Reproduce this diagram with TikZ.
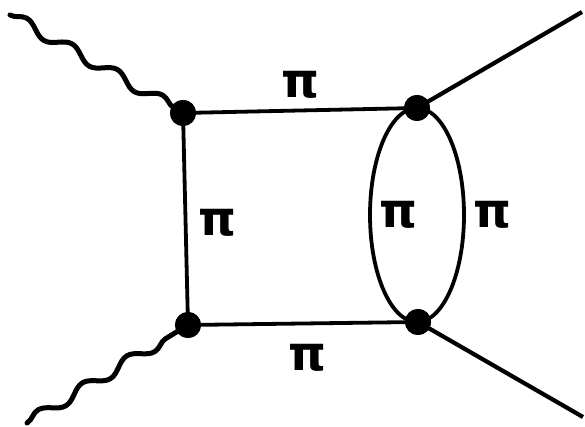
\documentclass[tikz,border=0pt]{standalone}
\usepackage{fontspec}
\newfontfamily\pifont{DejaVu Sans}
\usetikzlibrary{decorations.pathmorphing}
\begin{document}
\begin{tikzpicture}[x=1pt,y=1pt,
  vtx/.style={circle,fill=black,inner sep=0pt,minimum size=26pt},
  prop/.style={line width=3.8pt},
  ext/.style={line width=4.2pt},
  wave/.style={line width=5pt,line cap=round,decorate,decoration={snake,segment length=52pt,amplitude=5.5pt}},
  lbl/.style={font=\pifont\bfseries\fontsize{48}{48}\selectfont,inner sep=0pt}]
\useasboundingbox (0,0) rectangle (585,427);
\node[vtx] (A) at (183,314) {};
\node[vtx] (B) at (188,102) {};
\node[vtx] (C) at (417,319) {};
\node[vtx] (D) at (418,105) {};
\coordinate (w1) at (10,412);
\coordinate (w2) at (27,4);
\coordinate (o1) at (582,415);
\coordinate (o2) at (583,10);
\draw[wave] (w1) -- (A.center);
\draw[wave] (w2) -- (B.center);
\draw[prop] (A.center) -- (C.center);
\draw[prop] (A.center) -- (B.center);
\draw[prop] (B.center) -- (D.center);
\draw[ext] (C.center) -- (o1);
\draw[ext] (D.center) -- (o2);
\draw[prop] (C.center) arc[start angle=90,end angle=270,x radius=47pt,y radius=107pt];
\draw[prop] (C.center) arc[start angle=90,end angle=-90,x radius=47pt,y radius=107pt];
\node[vtx] at (A) {};
\node[vtx] at (B) {};
\node[vtx] at (C) {};
\node[vtx] at (D) {};
\node[lbl] (l1) at (300,342) {π};
\node[lbl] (l2) at (217,204) {π};
\node[lbl] (l3) at (307,69) {π};
\node[lbl] (l4) at (398,212) {π};
\node[lbl] (l5) at (492,212) {π};
\end{tikzpicture}
\end{document}
